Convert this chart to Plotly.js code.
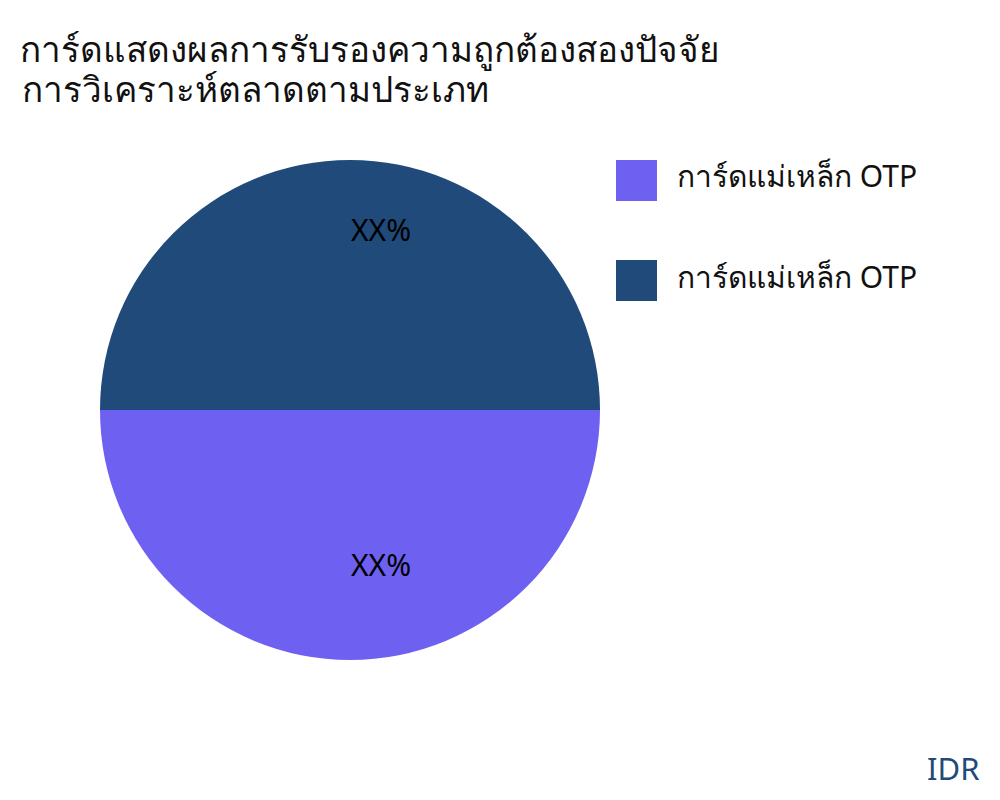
<!DOCTYPE html>
<html>
<head>
<meta charset="utf-8">
<script src="https://cdn.plot.ly/plotly-3.0.1.min.js"></script>
<style>
  html, body { margin: 0; padding: 0; background: #fff; }
  #chart { width: 1000px; height: 800px; }
</style>
</head>
<body>
<div id="chart"></div>
<script>
// ข้อมูล
const titleLines = ["การ์ดแสดงผลการรับรองความถูกต้องสองปัจจัย", "การวิเคราะห์ตลาดตามประเภท"];
const labels = ["การ์ดแม่เหล็ก OTP", "การ์ดแม่เหล็ก OTP"];
const values = [50, 50];
const sliceText = ["XX%", "XX%"];
const colors = ["#6e61f2", "#1f4a7a"];

const FONT = "'Noto Sans', 'DejaVu Sans', sans-serif";

// Plotly รวม label ที่ซ้ำกัน จึงใช้ id แยกแต่ละชิ้น
const ids = labels.map((l, i) => "slice" + i);

const ROTATION = 90; // องศา, เริ่มที่ 3 นาฬิกา เดินตามเข็ม

const data = [{
  type: "pie",
  labels: ids,
  values: values,
  textinfo: "none",
  marker: { colors: colors, line: { width: 0 } },
  sort: false,
  direction: "clockwise",
  rotation: ROTATION,
  hoverinfo: "none",
  domain: { x: [0.1, 0.6], y: [0.175, 0.8] },
  showlegend: false,
}];

// ป้าย XX% วางตามมุมกึ่งกลางของแต่ละชิ้น (คำนวณจาก values)
const cx = 0.349, cy = 1 - 410 / 800, rPx = 250;
const total = values.reduce((a, b) => a + b, 0);
const annotations = [];
let acc = 0;
values.forEach((v, i) => {
  const midFrac = (acc + v / 2) / total;
  acc += v;
  // มุมจาก 12 นาฬิกา ตามเข็ม
  const ang = (ROTATION + midFrac * 360) * Math.PI / 180;
  const dx = Math.sin(ang) * rPx * 0.67;
  const dy = Math.cos(ang) * rPx * 0.67 + 13;
  annotations.push({
    xref: "paper", yref: "paper",
    x: cx + dx / 1000, y: cy + dy / 800,
    xanchor: "left", yanchor: "middle",
    text: sliceText[i], showarrow: false,
    font: { family: FONT, size: 30, color: "#000" },
  });
});

// legend ทำเองด้วย shape + annotation เพื่อให้ช่องสีใหญ่เหมือนต้นฉบับ
const shapes = [];
labels.forEach((label, i) => {
  const top = 160 + i * 100;
  shapes.push({
    type: "rect", xref: "paper", yref: "paper",
    x0: 0.616, x1: 0.657,
    y0: 1 - (top + 41) / 800, y1: 1 - top / 800,
    fillcolor: colors[i], line: { width: 0 },
  });
  annotations.push({
    xref: "paper", yref: "paper",
    x: 0.675, y: 1 - (top + 16) / 800,
    xanchor: "left", yanchor: "middle",
    text: label, showarrow: false,
    font: { family: FONT, size: 30, color: "#111" },
  });
});

annotations.push({
  xref: "paper", yref: "paper",
  x: 0.981, y: 1 - 768 / 800,
  xanchor: "right", yanchor: "middle",
  text: "IDR", showarrow: false,
  font: { family: FONT, size: 31, color: "#1f4a7a" },
});

// บรรทัดที่สองของหัวเรื่อง (ระยะบรรทัดแคบกว่าค่าเริ่มต้นของ Plotly)
annotations.push({
  xref: "paper", yref: "paper",
  x: 0.02, y: 1 - 89 / 800,
  xanchor: "left", yanchor: "middle",
  text: titleLines[1], showarrow: false,
  font: { family: FONT, size: 35, color: "#111" },
});

const layout = {
  width: 1000,
  height: 800,
  margin: { l: 0, r: 0, t: 0, b: 0 },
  paper_bgcolor: "#fff",
  title: {
    text: titleLines[0],
    x: 0.02, xanchor: "left",
    y: 1 - 50 / 800, yanchor: "middle",
    font: { family: FONT, size: 35, color: "#111" },
  },
  shapes: shapes,
  annotations: annotations,
  showlegend: false,
};

Plotly.newPlot("chart", data, layout, { displayModeBar: false, staticPlot: true });
</script>
</body>
</html>
